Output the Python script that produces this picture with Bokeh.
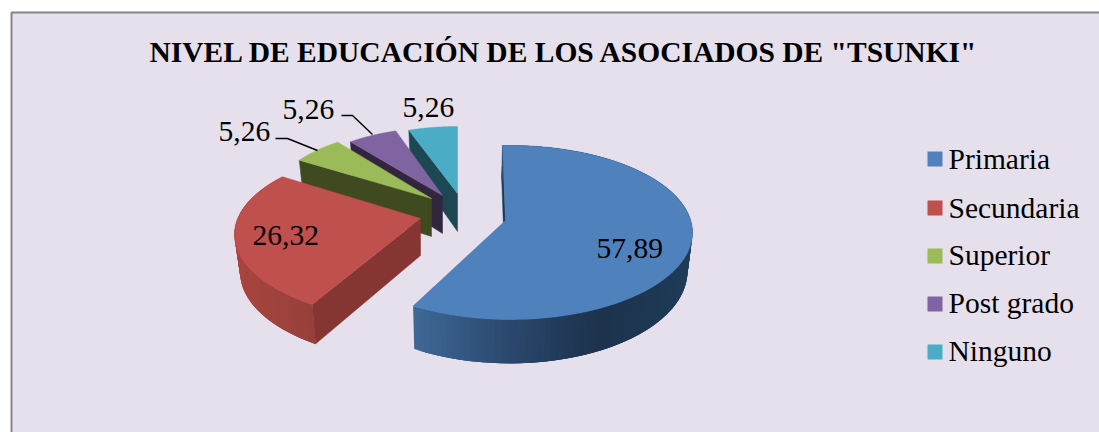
import math
import numpy as np
from bokeh.plotting import figure
from bokeh.models import Range1d
from bokeh.core.properties import value
from bokeh.embed import file_html
from bokeh.resources import INLINE

# ---- data ----
title = 'NIVEL DE EDUCACIÓN DE LOS ASOCIADOS DE "TSUNKI"'
categories = ["Primaria", "Secundaria", "Superior", "Post grado", "Ninguno"]
values = [57.89, 26.32, 5.26, 5.26, 5.26]
labels = ["57,89", "26,32", "5,26", "5,26", "5,26"]

# ---- styles ----
top_colors = ["#4F81BD", "#C0504D", "#9BBB59", "#8064A2", "#4BACC6"]
face_colors = ["#1E3A57", "#853532", "#3F4A20", "#32263F", "#1C4753"]
BG = "#E6E0EC"
FONT = "Liberation Serif"
BASE_SHIFT = 10

# apex x, apex y, ellipse centre x, ellipse centre y, rx, ry for each exploded slice
geom = [
    (505, 220, 510, 232, 182, 87),
    (420, 218, 420, 234, 186, 86),
    (431, 198, 431, 198, 158, 70),
    (442, 195, 442, 195, 150, 68),
    (457, 193, 457, 193, 150, 67),
]
# perspective corrections of the start and end angle of each slice, degrees
warp = [(-1.1, -1.1), (1.8, 0), (0, 1.5), (0, 0.8), (0, 0)]
# wall height at the apex, growth towards the viewer, shrink factor, vanishing x
wall = [
    (38, 0.06, 0.978, 465),
    (37, 0.03, 0.97, 420),
    (38, 0.06, 0.97, 431),
    (38, 0.06, 0.97, 442),
    (38, 0.06, 0.97, 457),
]

p = figure(width=1099, height=432, output_backend="svg", toolbar_location=None,
           x_range=Range1d(0, 1099), y_range=Range1d(432, 0), min_border=0,
           x_axis_type=None, y_axis_type=None, background_fill_color="white",
           border_fill_color="white", outline_line_color=None)
p.grid.visible = False

p.quad(left=[11], right=[1130], top=[12], bottom=[460], fill_color=BG,
       line_color="#868686", line_width=2)


def rim(a_deg, g):
    ax, ay, cx, cy, rx, ry = g
    a = math.radians(a_deg)
    ou, ov = (ax - cx) / rx, (ay - cy) / ry
    du, dv = math.sin(a), -math.cos(a)
    b = ou * du + ov * dv
    c = ou * ou + ov * ov - 1
    s = -b + math.sqrt(max(b * b - c, 0))
    return cx + (ou + s * du) * rx, cy + (ov + s * dv) * ry


def lower(x, y, g, w):
    depth, k, shrink, vx = w
    return vx + (x - vx) * shrink, y + depth + k * (y - g[1])


def mix(stops, x):
    xs = [s[0] for s in stops]
    ch = [np.interp(x, xs, [int(s[1][i:i + 2], 16) for s in stops]) for i in (1, 3, 5)]
    return "#%02x%02x%02x" % tuple(int(round(c)) for c in ch)


wall_stops = {
    0: [(414, "#3F6795"), (480, "#2F5078"), (560, "#213A58"), (600, "#1D324C"), (692, "#1F3C59")],
    1: [(234, "#A9453F"), (313, "#96403B")],
}

total = sum(values)
start = 0.0
spans = []
for v in values:
    spans.append((start, start + v / total * 360))
    start += v / total * 360

# painted from the back slice to the front slice
for i in range(len(values) - 1, -1, -1):
    g = geom[i]
    w = wall[i]
    a0, a1 = spans[i][0] + warp[i][0], spans[i][1] + warp[i][1]
    ax, ay = g[0], g[1]
    # cut face at the start angle
    ox, oy = rim(a0, g)
    lx, ly = lower(ox, oy, g, w)
    bx, by = lower(ax, ay, g, w)
    p.patch([ox, ax, bx, lx], [oy, ay, by, ly], fill_color=face_colors[i],
            line_color=face_colors[i], line_width=0.5)
    angles = np.linspace(a0, a1, 120)
    pts = [rim(a, g) for a in angles]
    # curved outer wall of the large slices; strips overlap so no seam shows
    if i in wall_stops:
        xs, ys, cs = [], [], []
        for k in range(len(pts) - 1, 0, -1):
            x0, y0 = pts[k]
            x1, y1 = pts[max(k - 3, 0)]
            lx0, ly0 = lower(x0, y0, g, w)
            lx1, ly1 = lower(x1, y1, g, w)
            xs.append([x0, x1, lx1, lx0])
            ys.append([y0, y1, ly1, ly0])
            cs.append(mix(wall_stops[i], x0))
        p.patches(xs, ys, fill_color=cs, line_color=None)
    p.patch([ax] + [q[0] for q in pts], [ay] + [q[1] for q in pts],
            fill_color=top_colors[i], line_color=top_colors[i], line_width=0.5)

# leader lines
p.line([275, 287, 317], [138, 138, 150], line_color="black", line_width=1.4)
p.line([341, 352, 372], [115, 115, 134], line_color="black", line_width=1.4)

# data labels
label_x = [596, 252, 218, 282, 402]
label_y = [258, 245, 141, 119, 117]
p.text(label_x, [y - BASE_SHIFT for y in label_y], text=labels, text_font=value(FONT),
       text_font_size="29.5px", text_color="black", text_align="left",
       text_baseline="alphabetic")

# title
p.text([149], [61 - BASE_SHIFT], text=[title], text_font=value(FONT), text_font_size="29.5px",
       text_font_style="bold", text_color="black", text_align="left",
       text_baseline="alphabetic")

# legend
row_y = [168, 217, 265, 313, 361]
text_y = [168, 217, 264, 312, 360]
p.quad(left=[927] * 5, right=[942] * 5, top=[y - 17 for y in row_y],
       bottom=[y - 2 for y in row_y], fill_color=top_colors, line_color=None)
p.text([948] * 5, [y - BASE_SHIFT for y in text_y], text=categories, text_font=value(FONT),
       text_font_size="29.5px", text_color="black", text_align="left",
       text_baseline="alphabetic")

open("out.html", "w").write(file_html(p, INLINE))
